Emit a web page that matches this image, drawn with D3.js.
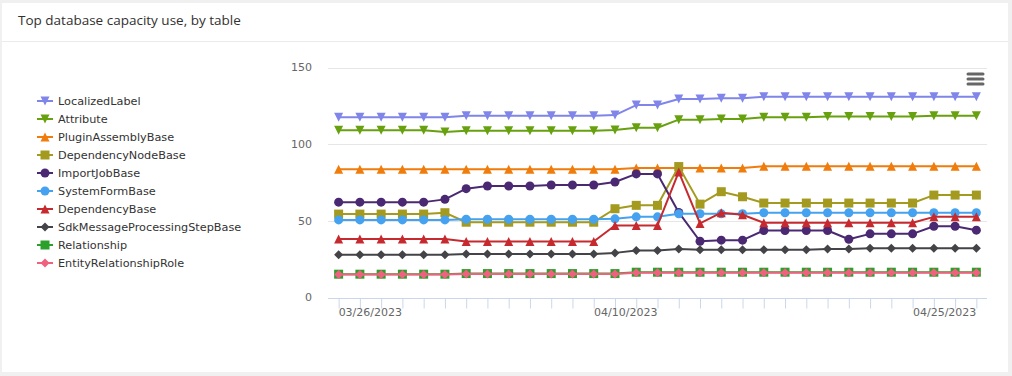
<!DOCTYPE html>
<html>
<head>
<meta charset="utf-8">
<script src="https://cdn.jsdelivr.net/npm/d3@7/dist/d3.min.js"></script>
<style>
  html, body { margin: 0; padding: 0; background: #f0f0f0; }
  svg { display: block; }
</style>
</head>
<body>
<svg id="chart" width="1012" height="376"></svg>
<script>
const dates = ["03/26/2023","03/27/2023","03/28/2023","03/29/2023","03/30/2023","03/31/2023",
  "04/01/2023","04/02/2023","04/03/2023","04/04/2023","04/05/2023","04/06/2023","04/07/2023",
  "04/08/2023","04/09/2023","04/10/2023","04/11/2023","04/12/2023","04/13/2023","04/14/2023",
  "04/15/2023","04/16/2023","04/17/2023","04/18/2023","04/19/2023","04/20/2023","04/21/2023",
  "04/22/2023","04/23/2023","04/24/2023","04/25/2023"];
const xTickLabels = ["03/26/2023","04/10/2023","04/25/2023"];
const yTicks = [0, 50, 100, 150];

const seriesNames = ["LocalizedLabel","Attribute","PluginAssemblyBase","DependencyNodeBase","ImportJobBase",
  "SystemFormBase","DependencyBase","SdkMessageProcessingStepBase","Relationship","EntityRelationshipRole"];

const localizedLabel = [117.5,117.5,117.5,117.5,117.5,117.5,118.5,118.5,118.5,118.5,118.5,118.5,118.5,119,125.5,125.5,129.5,129.5,130,130,131,131,131,131,131,131,131,131,131,131,131];
const attribute = [109,109,109,109,109,108,108.8,108.8,108.8,108.8,108.8,108.8,108.8,109.2,110.7,110.7,116,116,116.4,116.4,117.5,117.5,117.5,118,118,118,118,118,118.5,118.5,118.5];
const pluginAssemblyBase = [83.6,83.6,83.6,83.6,83.6,83.6,83.6,83.6,83.6,83.6,83.6,83.6,83.6,83.6,84.5,84.5,84.5,84.5,84.5,84.5,85.6,85.6,85.6,85.6,85.6,85.6,85.6,85.6,85.6,85.6,85.6];
const dependencyNodeBase = [54.4,54.4,54.4,54.4,54.4,55.3,49.1,49.1,49.1,49.1,49.1,49.1,49.1,57.9,60.1,60.1,85.4,60.9,69,65.7,61.6,61.6,61.6,61.6,61.6,61.6,61.6,61.6,66.8,66.8,66.8];
const importJobBase = [62.2,62.2,62.2,62.2,62.2,64,71,72.7,72.7,72.7,73.4,73.4,73.4,75.3,80.6,80.6,55.5,36.7,37.4,37.4,43.7,43.7,43.7,43.7,38,41.5,41.5,41.5,46.5,46.5,43.9];
const systemFormBase = [50.6,50.6,50.6,50.6,50.6,50.6,51,51,51,51,51,51,51,51.3,52.6,52.6,54.6,54.6,54.6,54.6,55.3,55.3,55.3,55.3,55.3,55.3,55.3,55.3,55.3,55.3,55.3];
const dependencyBase = [38.2,38.2,38.2,38.2,38.2,38.2,36.5,36.5,36.5,36.5,36.5,36.5,36.5,47,47,47,81.9,48.3,55.3,54,48.7,48.7,48.7,48.7,48.7,48.7,48.7,48.7,52.6,52.6,52.6];
const sdkMessageProcessingStepBase = [27.8,27.8,27.8,27.8,27.8,27.8,28.4,28.4,28.4,28.4,28.4,28.4,28.4,29.1,30.6,30.6,31.7,31.2,31.2,31.2,31.2,31.2,31.2,31.7,31.7,32.1,32.1,32.1,32.1,32.1,32.1];
const relationship = [15.2,15.2,15.2,15.2,15.2,15.2,15.6,15.6,15.6,15.6,15.6,15.6,15.6,15.6,16.5,16.5,16.5,16.5,16.5,16.5,16.5,16.5,16.5,16.5,16.5,16.5,16.5,16.5,16.5,16.5,16.5];
const entityRelationshipRole = [15,15,15,15,15,15,15.4,15.4,15.4,15.4,15.4,15.4,15.4,15.4,16.2,16.2,16.2,16.2,16.2,16.2,16.2,16.2,16.2,16.2,16.2,16.2,16.2,16.2,16.2,16.2,16.2];

const seriesValues = [localizedLabel, attribute, pluginAssemblyBase, dependencyNodeBase, importJobBase,
  systemFormBase, dependencyBase, sdkMessageProcessingStepBase, relationship, entityRelationshipRole];
const seriesColors = ["#8085e9","#67a10f","#f07c0c","#a39a1f","#4a2872","#44a2f0","#c62a2e","#434348","#2ca02c","#f0607f"];
const seriesMarkers = ["triangle-down","triangle-down","triangle","square","circle","circle","triangle","diamond","square","diamond"];

const svg = d3.select("#chart");

// card
svg.append("rect").attr("x", 2).attr("y", 3).attr("width", 1006).attr("height", 369).attr("fill", "#ffffff");
svg.append("line").attr("x1", 2).attr("x2", 1008).attr("y1", 41.5).attr("y2", 41.5).attr("stroke", "#ebebeb").attr("stroke-width", 1);
svg.append("text").attr("x", 18).attr("y", 25).attr("fill", "#323130")
  .style("font-family", "'Open Sans', 'Noto Sans', sans-serif").style("font-size", "13.5px")
  .text("Top database capacity use, by table");

const plotLeft = 328, plotRight = 987, plotTop = 67.5, plotBottom = 297.5;
const x = d3.scalePoint().domain(dates).range([plotLeft, plotRight]).padding(0.5);
const y = d3.scaleLinear().domain([0, 150]).range([plotBottom, plotTop]);

const g = svg.append("g");

// gridlines
g.selectAll("line.grid").data(yTicks.filter(t => t > 0)).enter().append("line")
  .attr("x1", plotLeft).attr("x2", plotRight)
  .attr("y1", d => Math.round(y(d)) + 0.5).attr("y2", d => Math.round(y(d)) + 0.5)
  .attr("stroke", "#e6e6e6").attr("stroke-width", 1);

// y labels
g.selectAll("text.ylab").data(yTicks).enter().append("text")
  .attr("x", 312).attr("y", d => y(d)).attr("dy", "0.35em").attr("text-anchor", "end")
  .attr("fill", "#666666").style("font-family", "'DejaVu Sans', sans-serif").style("font-size", "11px")
  .text(d => d);

// x axis
const xAxis = d3.axisBottom(x).tickSize(10).tickFormat("");
const xg = g.append("g").attr("transform", `translate(0,${Math.round(plotBottom) + 0.5})`).call(xAxis);
xg.select(".domain").attr("d", `M${plotLeft},0H${plotRight}`).attr("stroke", "#ccd6eb");
xg.selectAll(".tick line").attr("stroke", "#ccd6eb");

xTickLabels.forEach((lab, i) => {
  g.append("text")
    .attr("x", x(lab)).attr("y", 316)
    .attr("text-anchor", i === 0 ? "start" : "end")
    .attr("fill", "#666666").style("font-family", "'DejaVu Sans', sans-serif").style("font-size", "11px")
    .text(lab);
});

function markerPath(type, cx, cy, r) {
  switch (type) {
    case "circle":
      return `M${cx - r},${cy}A${r},${r} 0 1,0 ${cx + r},${cy}A${r},${r} 0 1,0 ${cx - r},${cy}Z`;
    case "square":
      return `M${cx - r},${cy - r}H${cx + r}V${cy + r}H${cx - r}Z`;
    case "triangle":
      return `M${cx},${cy - r}L${cx + r},${cy + r}L${cx - r},${cy + r}Z`;
    case "triangle-down":
      return `M${cx - r},${cy - r}L${cx + r},${cy - r}L${cx},${cy + r}Z`;
    case "diamond":
      return `M${cx},${cy - r}L${cx + r},${cy}L${cx},${cy + r}L${cx - r},${cy}Z`;
  }
}

const line = d3.line().x((d, i) => x(dates[i])).y(d => y(d));

seriesValues.forEach((vals, si) => {
  const sg = g.append("g");
  sg.append("path").attr("d", line(vals)).attr("fill", "none")
    .attr("stroke", seriesColors[si]).attr("stroke-width", 2).attr("stroke-linejoin", "round");
  sg.selectAll("path.m").data(vals).enter().append("path")
    .attr("d", (d, i) => markerPath(seriesMarkers[si], x(dates[i]), y(d), 4.5))
    .attr("fill", seriesColors[si]);
});

// legend
const legend = svg.append("g");
seriesNames.forEach((name, i) => {
  const ly = 101 + i * 18;
  legend.append("line").attr("x1", 37).attr("x2", 53).attr("y1", ly).attr("y2", ly)
    .attr("stroke", seriesColors[i]).attr("stroke-width", 2);
  legend.append("path").attr("d", markerPath(seriesMarkers[i], 45, ly, 4.5)).attr("fill", seriesColors[i]);
  legend.append("text").attr("x", 58).attr("y", ly).attr("dy", "0.35em")
    .attr("fill", "#333333").style("font-family", "'DejaVu Sans', sans-serif").style("font-size", "11.25px")
    .text(name);
});

// menu icon
const menu = svg.append("g");
[74, 79, 84].forEach(my => {
  menu.append("line").attr("x1", 968).attr("x2", 983).attr("y1", my).attr("y2", my)
    .attr("stroke", "#666666").attr("stroke-width", 3).attr("stroke-linecap", "round");
});
</script>
</body>
</html>
